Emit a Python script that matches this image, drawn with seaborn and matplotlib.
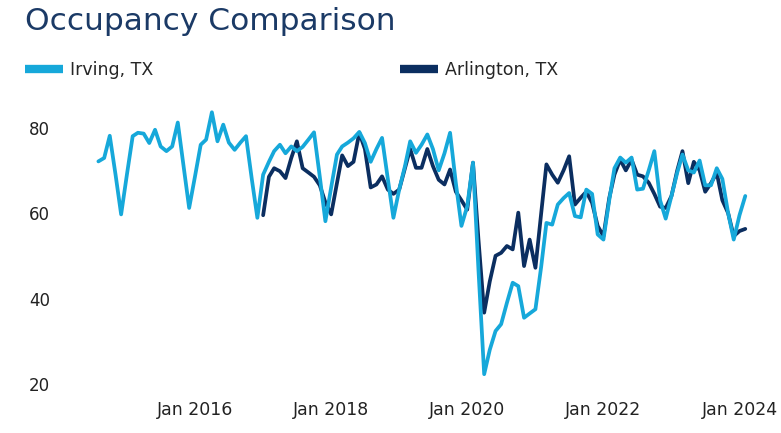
import matplotlib
matplotlib.use("Agg")
import matplotlib.pyplot as plt
from matplotlib.lines import Line2D
import pandas as pd
import seaborn as sns

sns.set_theme(style="white")
plt.rcParams['font.family'] = ['DejaVu Sans']

# monthly occupancy (%)
irving_start = "2014-08-01"
irving = [72.1, 72.9, 78.1, 69.0, 59.7, 69.0, 78.0, 78.8, 78.6, 76.4, 79.5, 75.6,
          74.5, 75.6, 81.2, 71.0, 61.2, 68.5, 76.0, 77.2, 83.6, 76.8, 80.7, 76.5,
          74.8, 76.5, 78.0, 68.0, 58.9, 69.0, 72.0, 74.5, 76.0, 74.0, 75.6, 74.5,
          75.5, 77.2, 78.9, 68.5, 58.1, 66.0, 73.7, 75.6, 76.5, 77.5, 79.0, 76.4,
          72.0, 75.0, 77.6, 68.0, 58.9, 65.5, 71.0, 76.8, 74.1, 76.0, 78.4, 75.0,
          70.0, 74.0, 78.8, 67.0, 57.0, 61.6, 71.8, 47.0, 22.3, 28.0, 32.4, 34.0,
          39.0, 43.7, 42.9, 35.5, 36.5, 37.5, 47.5, 57.7, 57.3, 62.0, 63.5, 64.7,
          59.3, 59.0, 65.5, 64.5, 55.0, 53.8, 63.0, 70.5, 73.0, 71.8, 73.0, 65.5,
          65.7, 70.0, 74.5, 63.0, 58.7, 64.0, 69.5, 73.7, 70.0, 69.5, 72.3, 66.5,
          66.5, 70.5, 68.0, 60.0, 53.8, 59.5, 64.0]

arlington_start = "2017-01-01"
arlington = [59.5, 68.5, 70.5, 69.8, 68.2, 72.9, 76.8, 70.5, 69.5, 68.5, 66.5, 62.5,
             59.7, 67.0, 73.5, 71.0, 72.0, 78.8, 75.0, 66.0, 66.7, 68.6, 65.5, 64.5,
             65.5, 70.5, 75.0, 70.6, 70.6, 75.0, 71.0, 67.8, 66.7, 70.2, 65.0, 63.0,
             60.8, 71.8, 54.0, 36.7, 44.0, 50.0, 50.7, 52.3, 51.5, 60.1, 47.6, 53.8,
             47.2, 60.0, 71.4, 69.0, 67.1, 70.0, 73.3, 62.0, 63.6, 65.0, 62.4, 57.0,
             54.6, 63.5, 69.0, 72.5, 70.0, 72.5, 69.0, 68.6, 67.1, 64.5, 61.5, 61.2,
             64.0, 70.0, 74.5, 67.0, 72.0, 70.0, 65.0, 67.0, 69.4, 63.0, 60.0, 54.6,
             55.8, 56.3]

markets = ["Irving, TX", "Arlington, TX"]
colors = ["#16a8da", "#0b2e60"]
year_ticks = ["2016", "2018", "2020", "2022", "2024"]
y_ticks = [20, 40, 60, 80]

df = pd.concat([
    pd.DataFrame({"date": pd.date_range(irving_start, periods=len(irving), freq="MS"),
                  "occ": irving, "market": markets[0]}),
    pd.DataFrame({"date": pd.date_range(arlington_start, periods=len(arlington), freq="MS"),
                  "occ": arlington, "market": markets[1]}),
])

fig = plt.figure(figsize=(7.81, 4.33), dpi=100)
ax = fig.add_axes([60 / 781, 49 / 433, 700 / 781, 282 / 433])

sns.lineplot(data=df, x="date", y="occ", hue="market", hue_order=markets,
             palette=colors, linewidth=2.7, legend=False, ax=ax)
# light line sits over the dark one
ax.lines[0].set_zorder(3)
ax.lines[1].set_zorder(2)

ax.set_ylim(20, 86)
ax.set_xlim(pd.Timestamp("2014-01-07"), pd.Timestamp("2024-04-20"))
ax.set_yticks(y_ticks)
ax.set_xticks([pd.Timestamp(y + "-01-01") for y in year_ticks])
ax.set_xticklabels(["Jan " + y for y in year_ticks])
ax.tick_params(axis="both", length=0, colors="#222222")
ax.tick_params(axis="x", pad=12, labelsize=12.5)
ax.tick_params(axis="y", pad=7, labelsize=12)
ax.set_xlabel("")
ax.set_ylabel("")
sns.despine(ax=ax, left=True, bottom=True)

fig.text(25 / 781, 1 - 21 / 433, "Occupancy Comparison", fontsize=22.5,
         color="#1b3a66", va="center", ha="left")

handles = [Line2D([0], [0], color=c, linewidth=6, solid_capstyle="butt") for c in colors]
fig.legend(handles, markets, loc="center left", bbox_to_anchor=(25 / 781, 1 - 70 / 433),
           ncol=2, frameon=False, fontsize=12.5, handlelength=2.2, handletextpad=0.4,
           columnspacing=14.2, borderpad=0, borderaxespad=0)

fig.savefig("out.png", dpi=100)
